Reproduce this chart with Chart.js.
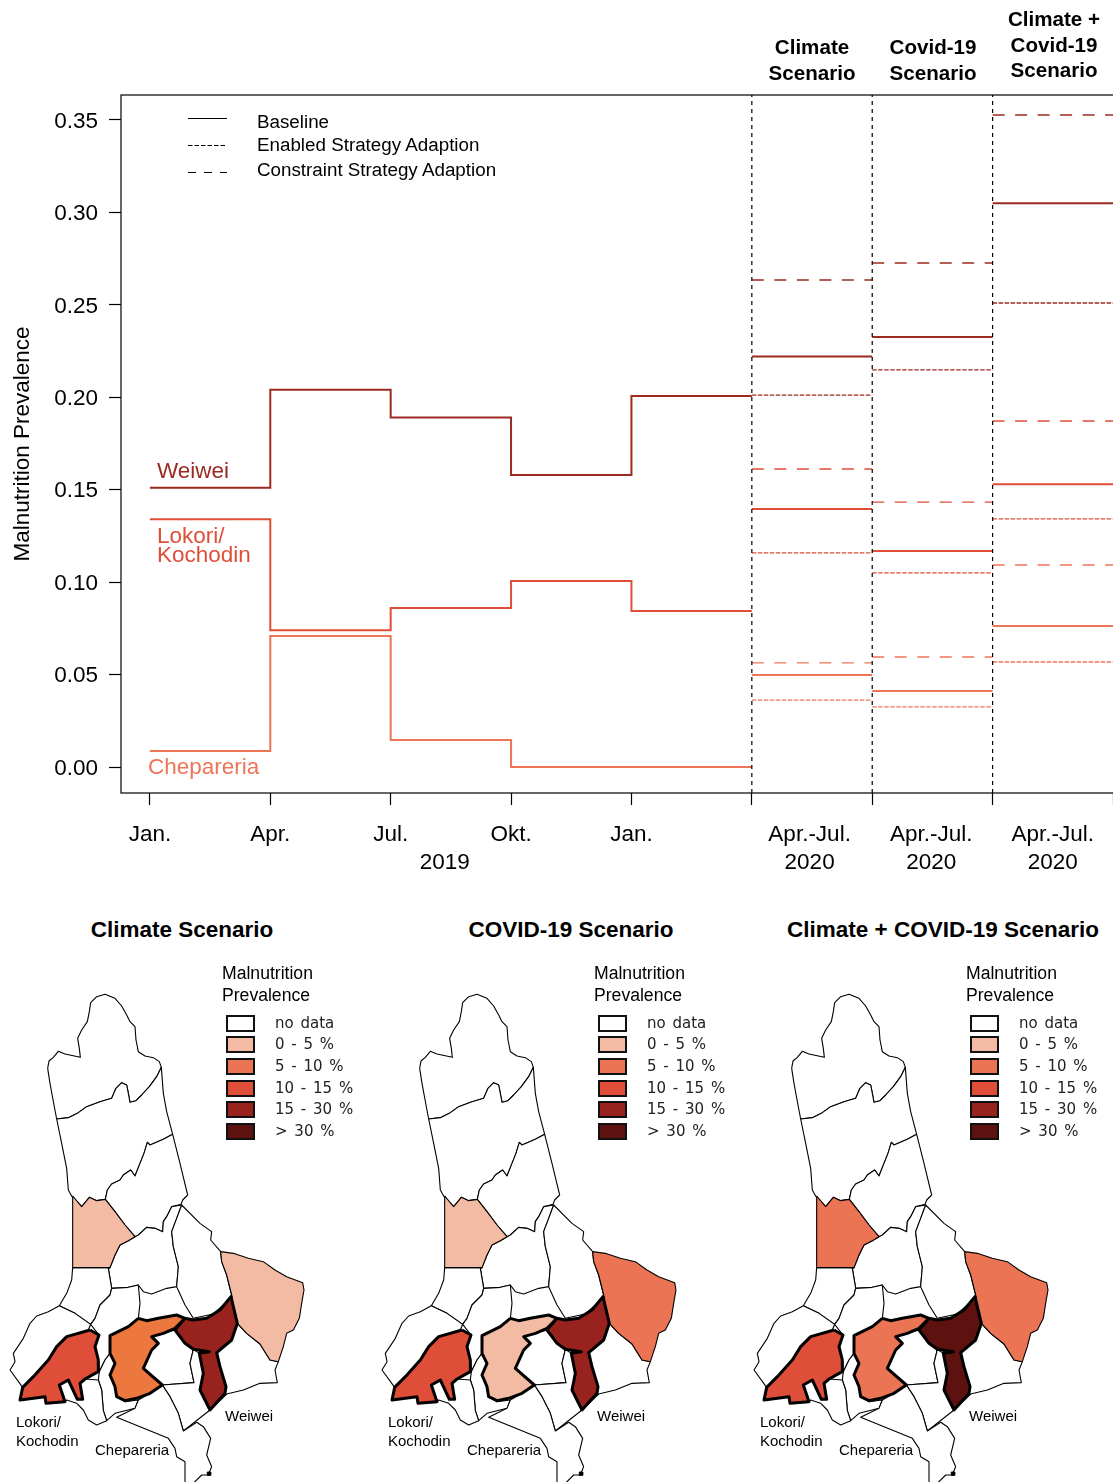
<!DOCTYPE html>
<html><head><meta charset="utf-8">
<script src="https://cdn.jsdelivr.net/npm/chart.js@4"></script>
<style>
html,body{margin:0;padding:0;background:#fff;width:1113px;height:1482px;overflow:hidden}
body{position:relative;font-family:"Liberation Sans",Arial,sans-serif;color:#000}
canvas{position:absolute}
.t{position:absolute;white-space:nowrap;transform:translateY(-50%);line-height:1}
.c{transform:translate(-50%,-50%);text-align:center}
.h{font-weight:bold;font-size:20.6px}
.mt{font-weight:bold;font-size:22.5px}
.lg{font-size:18.8px}
.ann{font-size:22.5px}
.ml{font-size:17.6px}
.li{font-family:"DejaVu Sans",sans-serif;font-size:15px;word-spacing:2px;color:#222}
.sw{position:absolute;width:25px;height:13px;border:2px solid #111}
.pl{font-size:15px}
</style></head><body>
<canvas id="top" width="1113" height="890" style="left:0;top:0"></canvas>
<canvas id="m0" width="320" height="502" style="left:0;top:980px"></canvas>
<canvas id="m1" width="320" height="502" style="left:372px;top:980px"></canvas>
<canvas id="m2" width="320" height="502" style="left:744px;top:980px"></canvas>
<script>
// ---- top chart data ----
const quarterEdges=[0,1,2,3,4,5];
const weiweiBaseline=[0.151,0.204,0.189,0.158,0.2007];
const lokoriBaseline=[0.134,0.074,0.086,0.1006,0.0844];
const chepareriaBaseline=[0.0087,0.0709,0.0146,0,0];
const scenarioStarts=[5,6,7];
const weiweiScenario=[0.222,0.2326,0.305];
const weiweiEnabled=[0.2012,0.2148,0.251];
const weiweiConstraint=[0.2634,0.2726,0.3527];
const lokoriScenario=[0.1396,0.1168,0.153];
const lokoriEnabled=[0.1158,0.105,0.1342];
const lokoriConstraint=[0.1612,0.1433,0.1872];
const chepareriaScenario=[0.0498,0.0411,0.0763];
const chepareriaEnabled=[0.0362,0.0325,0.0568];
const chepareriaConstraint=[0.0563,0.0595,0.1093];
const dividers=[5,6,7];
const yTicks=[0,0.05,0.1,0.15,0.2,0.25,0.3,0.35];
const xTicks=[0,1,2,3,4,5,6,7,8];
const xTickLabels=["Jan.","Apr.","Jul.","Okt.","Jan."];
const xGroupTicks=[2.45,5.48,6.49,7.5];
const xGroupLabels=[["","2019"],["Apr.-Jul.","2020"],["Apr.-Jul.","2020"],["Apr.-Jul.","2020"]];
const yMin=-0.01406,yMax=0.3635,xMin=-0.24,xMax=8;

// ---- map data (traced outlines) ----
const regionNorth=[[143,-365],[147,-387],[160,-398],[175,-416],[195,-408],[241,-398],[238,-425],[233,-455],[245,-480],[262,-505],[268,-535],[272,-562],[290,-580],[315,-587],[345,-575],[365,-552],[380,-525],[390,-505],[405,-490],[408,-450],[415,-415],[435,-402],[460,-397],[478,-385],[484,-368],[470,-340],[448,-310],[425,-285],[408,-268],[390,-263],[385,-290],[380,-315],[365,-322],[348,-305],[335,-275],[300,-265],[260,-250],[232,-230],[205,-217],[170,-213],[162,-255],[150,-320]];
const regionB=[[170,-213],[185,-140],[200,-65],[205,0],[215,18],[245,50],[268,22],[290,32],[316,28],[322,0],[335,-18],[360,-30],[370,-45],[392,-60],[405,-42],[420,-80],[432,-110],[442,-143],[450,-135],[490,-152],[518,-167],[500,-235],[490,-290],[484,-368],[470,-340],[448,-310],[425,-285],[408,-268],[390,-263],[385,-290],[380,-315],[365,-322],[348,-305],[335,-275],[300,-265],[260,-250],[232,-230],[205,-217]];
const regionC=[[316,28],[322,0],[335,-18],[360,-30],[370,-45],[392,-60],[405,-42],[420,-80],[432,-110],[442,-143],[450,-135],[490,-152],[518,-167],[540,-80],[563,15],[548,30],[543,43],[515,50],[500,80],[490,95],[488,125],[465,115],[440,112],[415,135],[405,140],[375,105],[345,65]];
const regionD=[[218,18],[245,50],[268,22],[290,32],[316,28],[345,65],[375,105],[405,140],[385,152],[360,165],[345,195],[330,233],[218,233]];
const regionE=[[405,140],[415,135],[440,112],[465,115],[488,125],[490,95],[500,80],[515,50],[545,45],[530,85],[515,125],[520,170],[535,230],[530,290],[500,295],[455,312],[430,305],[415,285],[385,292],[335,295],[325,235],[330,233],[345,195],[360,165],[385,152]];
const regionF=[[545,45],[600,100],[635,125],[632,150],[662,185],[665,215],[680,255],[695,315],[670,345],[640,372],[580,385],[555,345],[530,290],[535,230],[520,170],[515,125],[530,85]];
const regionG=[[218,233],[330,233],[325,235],[335,295],[330,315],[300,345],[285,385],[272,403],[225,370],[178,347],[200,310],[215,270]];
const regionH=[[178,347],[225,370],[272,403],[265,420],[200,440],[170,470],[145,510],[100,560],[68,592],[30,540],[45,515],[40,490],[70,445],[90,400],[110,378],[145,365]];
const regionI=[[335,295],[385,292],[415,285],[420,340],[415,385],[385,410],[330,437],[330,490],[315,510],[298,545],[295,510],[285,470],[297,435],[272,403],[285,385],[300,345],[330,315]];
const regionJ=[[298,545],[315,510],[330,490],[345,520],[340,545],[330,555],[345,590],[350,620],[375,635],[415,630],[405,655],[345,670],[320,692],[310,662],[305,600],[295,570]];
const regionK=[[255,567],[295,570],[305,600],[310,662],[320,692],[290,705],[265,690],[250,660],[230,640],[200,630],[195,635],[178,585],[205,570],[232,628],[248,628],[240,580]];
const regionL=[[525,420],[555,460],[580,478],[570,520],[582,578],[487,585],[430,535],[455,480],[475,460],[455,440],[490,430]];
const regionM=[[487,585],[582,578],[570,520],[580,478],[598,490],[610,550],[600,600],[630,660],[550,723],[535,670],[510,620]];
const regionN=[[662,185],[700,190],[745,205],[790,215],[825,240],[860,260],[908,278],[912,300],[905,340],[898,385],[880,420],[860,430],[850,470],[835,515],[810,510],[780,462],[740,430],[712,400],[700,350],[695,315],[680,255],[665,215]];
const regionO=[[712,400],[740,430],[780,462],[810,510],[835,515],[825,540],[832,578],[780,580],[730,600],[680,612],[630,660],[675,610],[678,590],[660,530],[650,488],[695,450]];
const regionP=[[415,630],[450,610],[487,585],[510,620],[535,670],[550,723],[590,697],[610,710],[632,745],[620,795],[635,830],[625,855],[605,855],[580,880],[555,880],[555,815],[530,800],[525,775],[505,745],[350,682],[405,655]];
const regionLokori=[[270,420],[297,435],[285,470],[295,510],[295,545],[255,567],[240,580],[248,628],[232,628],[205,570],[178,585],[195,635],[138,640],[135,620],[60,630],[68,592],[100,560],[145,510],[170,470],[200,440]];
const regionChepareria=[[415,385],[440,392],[475,385],[530,375],[555,385],[525,415],[490,430],[455,440],[475,460],[455,480],[430,535],[487,585],[450,610],[410,625],[375,632],[350,620],[345,590],[330,555],[345,520],[330,490],[330,437],[385,410]];
const regionWeiwei=[[555,385],[580,390],[620,385],[660,360],[693,320],[700,350],[712,400],[695,450],[650,488],[660,530],[678,590],[675,610],[630,660],[600,600],[610,550],[598,490],[628,485],[580,478],[555,460],[525,420]];
const townMarker=[[622,846],[632,846],[632,856],[622,856]];
const legendClasses=["no data","0 - 5 %","5 - 10 %","10 - 15 %","15 - 30 %","> 30 %"];
const mapTitles=["Climate Scenario","COVID-19 Scenario","Climate + COVID-19 Scenario"];
// class index per scenario: [regionD, regionN, Lokori, Chepareria, Weiwei]
const climateClasses=[1,1,3,"orange",4];
const covidClasses=[1,2,3,1,4];
const combinedClasses=[2,2,3,2,5];

// ---- styles ----
const classColors=["#ffffff","#f3bba3","#eb7455","#de4e38","#98231e","#5e1210"];
const orangeFill="#ec773f";
const cWeiwei="#9b2a20",cLokori="#de4e38",cChep="#ee7458";

function stepData(vals){const d=vals.map((v,i)=>({x:quarterEdges[i],y:v}));d.push({x:quarterEdges[vals.length],y:vals[vals.length-1]});return d;}
function segData(vals){const d=[];vals.forEach((v,i)=>{const s=scenarioStarts[i];d.push({x:s,y:v},{x:s+1,y:v},{x:s+1,y:null});});return d;}
const base=(data,color,w,extra)=>Object.assign({data,borderColor:color,borderWidth:w,showLine:true,pointRadius:0,fill:false,tension:0},extra||{});
const dsTop=[];
dividers.forEach(x=>dsTop.push(base([{x,y:yMin},{x,y:yMax}],"#000",1.2,{borderDash:[4,4]})));
[[weiweiBaseline,weiweiScenario,weiweiEnabled,weiweiConstraint,cWeiwei],
 [lokoriBaseline,lokoriScenario,lokoriEnabled,lokoriConstraint,cLokori],
 [chepareriaBaseline,chepareriaScenario,chepareriaEnabled,chepareriaConstraint,cChep]].forEach(([b,s,e,k,c])=>{
  dsTop.push(base(stepData(b),c,2,{stepped:'before'}));
  dsTop.push(base(segData(s),c,2));
  dsTop.push(base(segData(e),c,1.3,{borderDash:[4.5,1.5]}));
  dsTop.push(base(segData(k),c,1.4,{borderDash:[12,10.5]}));
});
const frame={id:'frame',
  beforeDraw(ch){ch.scales.y.getLabelItems().forEach(i=>{if(!i._shifted){i.options.translation[1]+=1.5;i._shifted=true;}});},
  afterDatasetsDraw(ch){const a=ch.chartArea,g=ch.ctx;g.save();g.strokeStyle='#000';g.lineWidth=1.2;g.strokeRect(a.left,a.top,a.right-a.left+4,a.bottom-a.top);g.restore();}};
const FF='"Liberation Sans",Arial,sans-serif';
new Chart(document.getElementById('top'),{type:'scatter',data:{datasets:dsTop},plugins:[frame],options:{
  responsive:false,animation:false,devicePixelRatio:1,
  layout:{padding:{top:95,left:0,right:0,bottom:0}},
  plugins:{legend:{display:false},tooltip:{enabled:false},title:{display:false}},
  scales:{
    x:{type:'linear',min:xMin,max:xMax,
      afterBuildTicks(s){s.ticks=xTicks.concat(xGroupTicks).map(value=>({value}));},
      afterFit(s){s.height=97;},
      border:{display:false},
      grid:{drawOnChartArea:false,drawTicks:true,tickLength:12,tickWidth:1.2,tickColor:c=>Number.isInteger(c.tick&&c.tick.value)?'#000':'rgba(0,0,0,0)'},
      ticks:{autoSkip:false,maxRotation:0,minRotation:0,color:'#000',padding:16,font:{family:FF,size:22.5,lineHeight:1.25},
        align:'center',
        callback(v){const g=xGroupTicks.indexOf(v);if(g>=0)return xGroupLabels[g];return xTickLabels[v]||'';}}},
    y:{type:'linear',min:yMin,max:yMax,
      afterBuildTicks(s){s.ticks=yTicks.map(value=>({value}));},
      afterFit(s){s.width=121;},
      border:{display:false},
      title:{display:true,text:'Malnutrition Prevalence',color:'#000',font:{family:FF,size:22.5},padding:{top:9,bottom:0}},
      grid:{drawOnChartArea:false,tickLength:12,tickWidth:1.2,tickColor:'#000'},
      ticks:{color:'#000',padding:11,font:{family:FF,size:22.5},callback:v=>v.toFixed(2)}}
  }}});

function poly(pts,fill,w){const d=pts.concat([pts[0]]).map(p=>({x:p[0],y:p[1]}));
  return {data:d,showLine:true,pointRadius:0,borderColor:'#000',borderWidth:w,backgroundColor:fill,fill:'shape',tension:0,borderJoinStyle:'round'};}
function mapChart(id,cls){
  const col=k=>k==="orange"?orangeFill:classColors[k];
  const thin=[regionNorth,regionB,regionC,regionE,regionF,regionG,regionH,regionI,regionJ,regionK,regionL,regionM,regionO,regionP].map(r=>poly(r,'#fff',1.1));
  const ds=thin.concat([poly(regionD,col(cls[0]),1.1),poly(regionN,col(cls[1]),1.1),poly(townMarker,'#000',1),
    poly(regionLokori,col(cls[2]),3),poly(regionChepareria,col(cls[3]),3),poly(regionWeiwei,col(cls[4]),3)]);
  ds.forEach((d,i)=>d.order=ds.length-i);
  new Chart(document.getElementById(id),{type:'scatter',data:{datasets:ds},options:{
    responsive:false,animation:false,devicePixelRatio:1,layout:{padding:0},
    plugins:{legend:{display:false},tooltip:{enabled:false}},
    scales:{x:{type:'linear',display:false,min:0,max:960},y:{type:'linear',display:false,reverse:true,min:-630,max:876}}}});
}
mapChart('m0',climateClasses);mapChart('m1',covidClasses);mapChart('m2',combinedClasses);

// ---- text overlays ----
function T(txt,x,y,cls,color){const e=document.createElement('div');e.className='t '+cls;e.textContent=txt;e.style.left=x+'px';e.style.top=y+'px';if(color)e.style.color=color;document.body.appendChild(e);}
[["Climate",812,47],["Scenario",812,73],["Covid-19",933,47],["Scenario",933,73],["Climate +",1054,19],["Covid-19",1054,45],["Scenario",1054,70]].forEach(a=>T(a[0],a[1],a[2],'c h'));
T("Baseline",257,122,'lg');T("Enabled Strategy Adaption",257,145,'lg');T("Constraint Strategy Adaption",257,170,'lg');
T("Weiwei",157,471,'ann',cWeiwei);T("Lokori/",157,536,'ann',cLokori);T("Kochodin",157,555,'ann',cLokori);T("Chepareria",148,767,'ann',cChep);
const svgNS="http://www.w3.org/2000/svg";
const sv=document.createElementNS(svgNS,'svg');sv.setAttribute('width',260);sv.setAttribute('height',200);sv.style.cssText='position:absolute;left:0;top:0';
[[118.5,'',1.2],[145.5,'4.5 2',1.1],[172.5,'8 8',1.2]].forEach(k=>{const l=document.createElementNS(svgNS,'line');l.setAttribute('x1',188);l.setAttribute('x2',227);l.setAttribute('y1',k[0]);l.setAttribute('y2',k[0]);l.setAttribute('stroke','#000');l.setAttribute('stroke-width',k[2]);if(k[1])l.setAttribute('stroke-dasharray',k[1]);sv.appendChild(l);});
document.body.appendChild(sv);
const legendYs=[1015,1036,1058,1080,1101,1123];
const mapTitleX=[182,571,943];
[0,372,744].forEach((o,i)=>{
  T(mapTitles[i],mapTitleX[i],930,'c mt');
  T("Malnutrition",o+222,974,'ml');T("Prevalence",o+222,996,'ml');
  legendClasses.forEach((t,j)=>{const s=document.createElement('div');s.className='sw';s.style.left=(o+226)+'px';s.style.top=legendYs[j]+'px';s.style.background=classColors[j];document.body.appendChild(s);
    T(t,o+275,legendYs[j]+8,'li');});
  T("Lokori/",o+16,1421,'pl');T("Kochodin",o+16,1440,'pl');T("Chepareria",o+95,1449,'pl');T("Weiwei",o+225,1415,'pl');
});
</script>
</body></html>
